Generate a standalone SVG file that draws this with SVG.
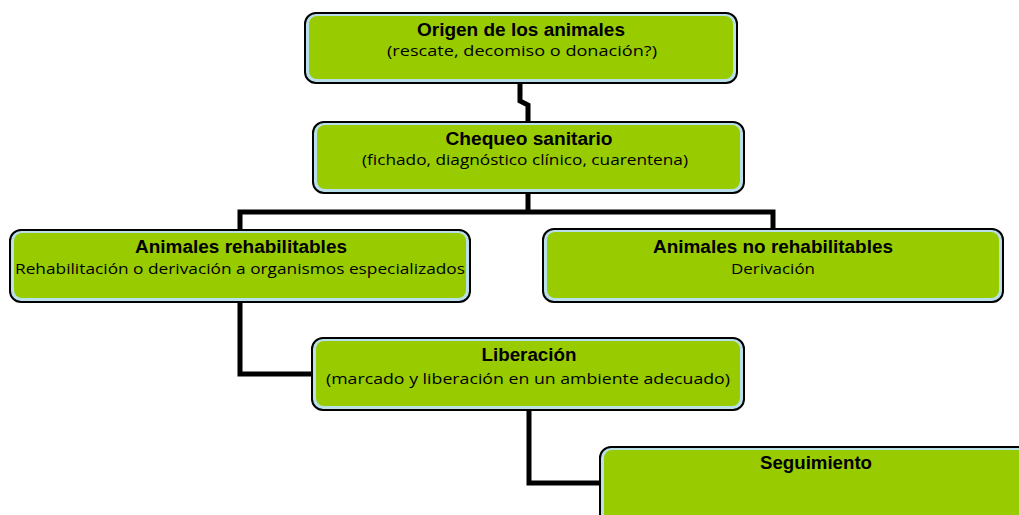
<svg xmlns="http://www.w3.org/2000/svg" width="1019" height="515" viewBox="0 0 1019 515">
<style>
.outer{fill:#b9dfe8;stroke:#000;stroke-width:2}
.inner{fill:#99cc00}
.t{font-family:"Liberation Sans","DejaVu Sans",sans-serif;font-weight:bold;font-size:18px;fill:#000;text-anchor:middle}
.s{font-family:"Open Sans","Liberation Sans",sans-serif;font-size:15px;fill:#000;text-anchor:middle}
.c{fill:none;stroke:#000;stroke-width:5}
</style>
<rect width="1019" height="515" fill="#fff"/>
<g id="connectors">
<path class="c" d="M520,83 V101 L528,105 V122"/>
<path class="c" d="M528,193 V212"/>
<path class="c" d="M240,231 V212 H773 V230"/>
<path class="c" d="M240,302 V374 H313"/>
<path class="c" d="M529,410 V483 H601"/>
</g>
<g id="origen">
<rect class="outer" x="305" y="13" width="432" height="70" rx="11"/>
<rect class="inner" x="309" y="16" width="424" height="63" rx="8"/>
<text class="t" x="521" y="36" textLength="208" lengthAdjust="spacingAndGlyphs">Origen de los animales</text>
<text class="s" x="522" y="56" textLength="270" lengthAdjust="spacingAndGlyphs">(rescate, decomiso o  donación?)</text>
</g>
<g id="chequeo">
<rect class="outer" x="313" y="122" width="431" height="71" rx="11"/>
<rect class="inner" x="317" y="125" width="423" height="64" rx="8"/>
<text class="t" x="529" y="145" textLength="167" lengthAdjust="spacingAndGlyphs">Chequeo sanitario</text>
<text class="s" x="525" y="165" textLength="326" lengthAdjust="spacingAndGlyphs">(fichado, diagnóstico clínico, cuarentena)</text>
</g>
<g id="rehabilitables">
<rect class="outer" x="10" y="230" width="460" height="72" rx="11"/>
<rect class="inner" x="14" y="233" width="452" height="65" rx="8"/>
<text class="t" x="241" y="253" textLength="212" lengthAdjust="spacingAndGlyphs">Animales rehabilitables</text>
<text class="s" x="240" y="274" textLength="450" lengthAdjust="spacingAndGlyphs">Rehabilitación o derivación a organismos especializados</text>
</g>
<g id="no-rehabilitables">
<rect class="outer" x="543" y="229" width="460" height="73" rx="11"/>
<rect class="inner" x="547" y="232" width="452" height="66" rx="8"/>
<text class="t" x="773" y="253" textLength="240" lengthAdjust="spacingAndGlyphs">Animales no rehabilitables</text>
<text class="s" x="773" y="274" textLength="84" lengthAdjust="spacingAndGlyphs">Derivación</text>
</g>
<g id="liberacion">
<rect class="outer" x="312" y="338" width="432" height="72" rx="11"/>
<rect class="inner" x="316" y="341" width="424" height="65" rx="8"/>
<text class="t" x="529" y="361" textLength="95" lengthAdjust="spacingAndGlyphs">Liberación</text>
<text class="s" x="528" y="384" textLength="404" lengthAdjust="spacingAndGlyphs">(marcado y liberación en un ambiente adecuado)</text>
</g>
<g id="seguimiento">
<rect class="outer" x="600" y="447" width="440" height="90" rx="11"/>
<rect class="inner" x="604" y="450" width="432" height="83" rx="8"/>
<text class="t" x="816" y="469" textLength="112" lengthAdjust="spacingAndGlyphs">Seguimiento</text>
</g>
</svg>
